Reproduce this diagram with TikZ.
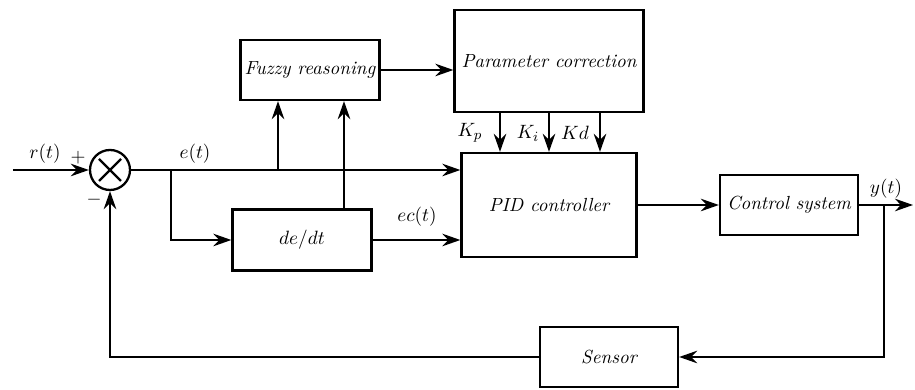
\documentclass[tikz,border=0pt]{standalone}
\usetikzlibrary{arrows.meta}
\begin{document}
\begin{tikzpicture}[>={Stealth[length=3.6mm,width=2.5mm]},
  every node/.append style={font=\fontsize{10.8}{13}\selectfont},
  block/.style={draw, line width=1.3pt, font=\fontsize{10.8}{13}\selectfont\itshape, inner sep=0pt}]

\useasboundingbox (0,0) rectangle (18.3,7.8);

% blocks
\node [block, minimum width=2.78cm, minimum height=1.2cm]  (fuzzy)  at (6.2,6.4)   {Fuzzy reasoning};
\node [block, minimum width=3.78cm, minimum height=2.04cm] (param)  at (10.98,6.58) {Parameter correction};
\node [block, minimum width=3.5cm,  minimum height=2.08cm] (pid)    at (10.98,3.7)  {PID controller};
\node [block, minimum width=2.76cm, minimum height=1.2cm]  (plant)  at (15.78,3.7)  {Control system};
\node [block, minimum width=2.78cm, minimum height=1.22cm] (dedt)   at (6.04,3.0)   {$de/dt$};
\node [block, minimum width=2.76cm, minimum height=1.2cm]  (sensor) at (12.18,0.66) {Sensor};

\node [draw, circle, line width=1.3pt, minimum size=0.8cm] (sum) at (2.2,4.4) {};
\draw [line width=1.3pt] (sum.center) ++(-0.22,-0.22) -- ++(0.44,0.44);
\draw [line width=1.3pt] (sum.center) ++(-0.22,0.22) -- ++(0.44,-0.44);

\coordinate (in) at (0.26,4.4);
\coordinate (b1) at (3.42,4.4);
\coordinate (b2) at (5.56,4.4);
\coordinate (b3) at (6.88,4.4);
\coordinate (b4) at (17.68,3.7);
\coordinate (out) at (18.26,3.7);
\coordinate (kp) at (10.0,0);
\coordinate (ki) at (10.98,0);
\coordinate (kd) at (12.0,0);

% labels
\node (rlab)  at (0.9,4.72)   {$r(t)$};
\node (plus)  at (1.56,4.64)  {$+$};
\node (minus) at (1.88,3.8)   {$-$};
\node (elab)  at (3.9,4.72)   {$e(t)$};
\node (eclab) at (8.34,3.46)  {$ec(t)$};
\node (ylab)  at (17.72,4.02) {$y(t)$};
\node (kplab) at (9.4,5.14)   {$K_p$};
\node (kilab) at (10.56,5.14) {$K_i$};
\node (kdlab) at (11.5,5.14)  {$Kd$};

\begin{scope}[line width=1.3pt,->]
\draw (in) -- (sum);
\draw [-] (sum) -- (b1);
\draw (b1) -- (pid.west |- b1);
\draw (b1) |- (dedt);
\draw (b2) -- (fuzzy.south -| b2);
\draw (dedt.north -| b3) -- (fuzzy.south -| b3);
\draw (dedt) -- (pid.west |- dedt);
\draw (fuzzy) -- (param.west |- fuzzy);
\foreach \k in {kp,ki,kd}
  \draw (param.south -| \k) -- (pid.north -| \k);
\draw (pid) -- (plant);
\draw (plant) -- (out);
\draw (b4) |- (sensor);
\draw (sensor) -| (sum);
\end{scope}

\end{tikzpicture}
\end{document}
